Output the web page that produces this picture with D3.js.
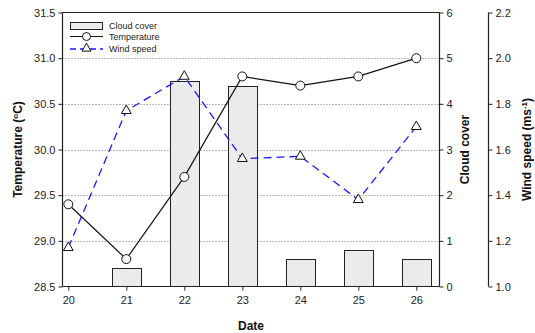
<!DOCTYPE html>
<html><head><meta charset="utf-8">
<script src="https://cdn.jsdelivr.net/npm/d3@7"></script>
<style>
body{margin:0;background:#fff;}
svg{font-family:"Liberation Sans",Arial,sans-serif;}
</style></head>
<body><svg id="c" width="535" height="333"></svg>
<script>
const dates = [20, 21, 22, 23, 24, 25, 26];
const temperature = [29.4, 28.8, 29.7, 30.8, 30.7, 30.8, 31.0];
const cloudCover = [0, 0.4, 4.5, 4.4, 0.6, 0.8, 0.6];
const windSpeed = [1.17, 1.77, 1.92, 1.56, 1.57, 1.38, 1.70];
const tempTicks = [28.5, 29.0, 29.5, 30.0, 30.5, 31.0, 31.5];
const cloudTicks = [0, 1, 2, 3, 4, 5, 6];
const windTicks = [1.0, 1.2, 1.4, 1.6, 1.8, 2.0, 2.2];

const svg = d3.select("#c");
const L = 62.5, R = 439.5, T = 12.5, B = 286.5, WX = 488.5;
const x = d3.scaleLinear().domain([19.9, 26.4]).range([L, R]);
const yT = d3.scaleLinear().domain([28.5, 31.5]).range([B, T]);
const yC = d3.scaleLinear().domain([0, 6]).range([B, T]);
const yW = d3.scaleLinear().domain([1.0, 2.2]).range([B, T]);

// gridlines
svg.append("g").selectAll("line").data(tempTicks.slice(1, -1)).join("line")
  .attr("x1", L).attr("x2", R).attr("y1", d => Math.round(yT(d)) + 0.5).attr("y2", d => Math.round(yT(d)) + 0.5)
  .attr("stroke", "#777").attr("stroke-width", 1).attr("stroke-dasharray", "1,2");

// bars
const bw = x(20.25) - x(19.75);
svg.append("g").selectAll("rect").data(dates.map((d, i) => ({d, v: cloudCover[i]})).filter(o => o.v > 0)).join("rect")
  .attr("x", o => Math.round(x(o.d) - bw / 2) + 0.5).attr("width", Math.round(bw))
  .attr("y", o => Math.round(yC(o.v)) + 0.5).attr("height", o => B - Math.round(yC(o.v)) - 0.5)
  .attr("fill", "#ebebeb").attr("stroke", "#222").attr("stroke-width", 1);

// frame
svg.append("line").attr("x1", L).attr("x2", R).attr("y1", T).attr("y2", T).attr("stroke", "#222");

// axes
const fs = "11px";
const gL = svg.append("g").attr("transform", `translate(${L},0)`)
  .call(d3.axisLeft(yT).tickValues(tempTicks).tickFormat(d3.format(".1f")).tickSize(4).tickPadding(3));
const gR = svg.append("g").attr("transform", `translate(${R},0)`)
  .call(d3.axisRight(yC).tickValues(cloudTicks).tickFormat(d3.format("d")).tickSize(4).tickPadding(3));
const gW = svg.append("g").attr("transform", `translate(${WX},0)`)
  .call(d3.axisRight(yW).tickValues(windTicks).tickFormat(d3.format(".1f")).tickSize(4).tickPadding(3));
const gB = svg.append("g").attr("transform", `translate(0,${B})`)
  .call(d3.axisBottom(x).tickValues(dates).tickFormat(d3.format("d")).tickSize(4).tickPadding(6));
[gL, gR, gW, gB].forEach(g => {
  g.selectAll(".domain").attr("stroke", "#222").attr("stroke-width", 1.2);
  g.selectAll(".tick line").attr("stroke", "#222");
  g.selectAll("text").attr("font-size", fs).attr("fill", "#222").attr("font-family", "Liberation Sans, Arial, sans-serif");
});
gL.select(".domain").attr("d", `M0,${T}V${B}`);
gR.select(".domain").attr("d", `M0,${T}V${B}`);
gW.select(".domain").attr("d", `M0,${T}V${B}`);
gB.select(".domain").attr("d", `M${L},0H${R}`);

// wind line
const lineW = d3.line().x((d, i) => x(dates[i])).y(d => yW(d));
svg.append("path").datum(windSpeed).attr("d", lineW).attr("fill", "none")
  .attr("stroke", "#1a1aff").attr("stroke-width", 1.3).attr("stroke-dasharray", "8,5");
// temperature line
const lineT = d3.line().x((d, i) => x(dates[i])).y(d => yT(d));
svg.append("path").datum(temperature).attr("d", lineT).attr("fill", "none")
  .attr("stroke", "#111").attr("stroke-width", 1.2);

const tri = d3.symbol().type(d3.symbolTriangle).size(42);
svg.append("g").selectAll("path").data(windSpeed).join("path")
  .attr("transform", (d, i) => `translate(${x(dates[i])},${yW(d)})`)
  .attr("d", tri).attr("fill", "#fff").attr("stroke", "#111").attr("stroke-width", 1);
svg.append("g").selectAll("circle").data(temperature).join("circle")
  .attr("cx", (d, i) => x(dates[i])).attr("cy", d => yT(d)).attr("r", 4.5)
  .attr("fill", "#fff").attr("stroke", "#111").attr("stroke-width", 1);

// legend
const lg = svg.append("g");
const lfs = "9px";
lg.append("rect").attr("x", 70.5).attr("y", 22.5).attr("width", 32).attr("height", 7)
  .attr("fill", "#ebebeb").attr("stroke", "#222");
lg.append("text").attr("x", 109).attr("y", 29).attr("font-size", lfs).attr("fill", "#222").text("Cloud cover");
lg.append("line").attr("x1", 70).attr("x2", 103).attr("y1", 36.5).attr("y2", 36.5).attr("stroke", "#111").attr("stroke-width", 1.2);
lg.append("circle").attr("cx", 86.5).attr("cy", 36.5).attr("r", 4).attr("fill", "#fff").attr("stroke", "#111");
lg.append("text").attr("x", 109).attr("y", 40).attr("font-size", lfs).attr("fill", "#222").text("Temperature");
lg.append("line").attr("x1", 70).attr("x2", 103).attr("y1", 49).attr("y2", 49).attr("stroke", "#1a1aff").attr("stroke-width", 1.3).attr("stroke-dasharray", "6,4");
lg.append("path").attr("transform", "translate(86.5,48.5)").attr("d", d3.symbol().type(d3.symbolTriangle).size(36)).attr("fill", "#fff").attr("stroke", "#111");
lg.append("text").attr("x", 109).attr("y", 52).attr("font-size", lfs).attr("fill", "#222").text("Wind speed");

// titles
const tfs = "12px";
svg.append("text").attr("transform", `translate(22,${(T + B) / 2}) rotate(-90)`).attr("text-anchor", "middle")
  .attr("font-size", tfs).attr("font-weight", "bold").attr("fill", "#111")
  .html('Temperature (<tspan dy="-4" font-size="8px">o</tspan><tspan dy="4">C)</tspan>');
svg.append("text").attr("transform", `translate(469,${(T + B) / 2}) rotate(-90)`).attr("text-anchor", "middle")
  .attr("font-size", tfs).attr("font-weight", "bold").attr("fill", "#111").text("Cloud cover");
svg.append("text").attr("transform", `translate(531,${(T + B) / 2}) rotate(-90)`).attr("text-anchor", "middle")
  .attr("font-size", tfs).attr("font-weight", "bold").attr("fill", "#111")
  .html('Wind speed (ms<tspan dy="-4" font-size="8px">-1</tspan><tspan dy="4">)</tspan>');
svg.append("text").attr("x", (L + R) / 2).attr("y", 330).attr("text-anchor", "middle")
  .attr("font-size", tfs).attr("font-weight", "bold").attr("fill", "#111").text("Date");
</script></body></html>
